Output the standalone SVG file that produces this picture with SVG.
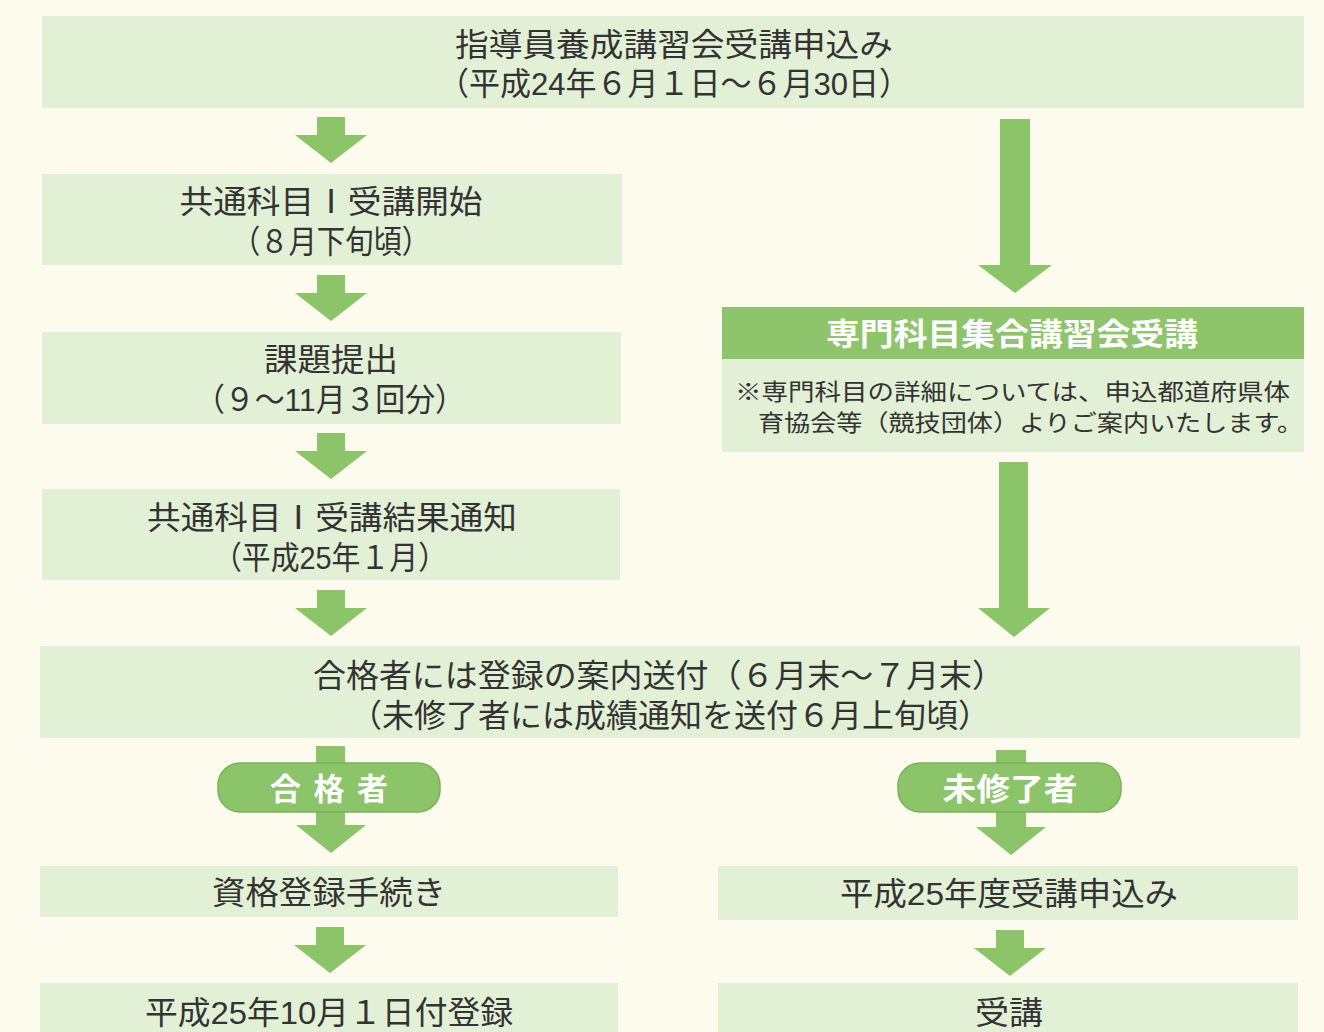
<svg xmlns="http://www.w3.org/2000/svg" width="1324" height="1032" viewBox="0 0 1324 1032">
<style>
.box{fill:#e2f0d6}
.hdr{fill:#8ec46c}
.arr{fill:#8cc46a}
.pill{fill:#8cc46a;stroke:#79b257;stroke-width:1.5}
.t{font-family:"Liberation Sans","Noto Sans CJK JP","Noto Sans CJK SC",sans-serif;font-size:32px;fill:#333;text-anchor:middle}
.n{font-family:"Liberation Sans","Noto Sans CJK JP","Noto Sans CJK SC",sans-serif;font-size:23px;fill:#333}
.w{font-family:"Liberation Sans","Noto Sans CJK JP","Noto Sans CJK SC",sans-serif;font-size:31px;fill:#fff;font-weight:bold;text-anchor:middle}
</style>
<rect width="1324" height="1032" fill="#fdfbee"/>
<g id="connectors">
<polygon class="arr" points="317,117 345,117 345,135 367,135 331,163 295,135 317,135"/>
<polygon class="arr" points="317,275 345,275 345,293 367,293 331,321 295,293 317,293"/>
<polygon class="arr" points="317,433 345,433 345,451 367,451 331,479 295,451 317,451"/>
<polygon class="arr" points="317,590 345,590 345,608 367,608 331,636 295,608 317,608"/>
<polygon class="arr" points="1000,119 1030,119 1030,265 1052,265 1015,293 978,265 1000,265"/>
<polygon class="arr" points="999,462 1028,462 1028,608 1050,608 1014,637 978,608 999,608"/>
<polygon class="arr" points="316,746 345,746 345,825 366,825 331,853 296,825 316,825"/>
<polygon class="arr" points="996,750 1026,750 1026,827 1046,827 1011,855 976,827 996,827"/>
<polygon class="arr" points="316,927 344,927 344,945 366,945 330,973 294,945 316,945"/>
<polygon class="arr" points="996,930 1024,930 1024,948 1046,948 1010,976 974,948 996,948"/>
</g>
<g id="n1"><rect class="box" x="42" y="16" width="1262" height="92"/>
<text class="t" x="674" y="56" textLength="438" lengthAdjust="spacingAndGlyphs">指導員養成講習会受講申込み</text>
<text class="t" x="674" y="95" textLength="472" lengthAdjust="spacingAndGlyphs">（平成24年６月１日～６月30日）</text></g>
<g id="n2"><rect class="box" x="42" y="174" width="580" height="91"/>
<text class="t" x="331" y="213" textLength="303" lengthAdjust="spacingAndGlyphs">共通科目Ⅰ受講開始</text>
<text class="t" x="331" y="253" textLength="198" lengthAdjust="spacingAndGlyphs">（８月下旬頃）</text></g>
<g id="n3"><rect class="box" x="42" y="332" width="579" height="92"/>
<text class="t" x="331" y="371" textLength="134" lengthAdjust="spacingAndGlyphs">課題提出</text>
<text class="t" x="330" y="411" textLength="270" lengthAdjust="spacingAndGlyphs">（９～11月３回分）</text></g>
<g id="n4"><rect class="box" x="42" y="489" width="578" height="91"/>
<text class="t" x="332" y="529" textLength="370" lengthAdjust="spacingAndGlyphs">共通科目Ⅰ受講結果通知</text>
<text class="t" x="330" y="569" textLength="234" lengthAdjust="spacingAndGlyphs">（平成25年１月）</text></g>
<g id="n5"><rect class="box" x="40" y="646" width="1260" height="92"/>
<text class="t" x="659" y="687" textLength="692" lengthAdjust="spacingAndGlyphs">合格者には登録の案内送付（６月末～７月末）</text>
<text class="t" x="670" y="727" textLength="640" lengthAdjust="spacingAndGlyphs">（未修了者には成績通知を送付６月上旬頃）</text></g>
<g id="n6"><rect class="hdr" x="722" y="307" width="582" height="52"/>
<rect class="box" x="722" y="359" width="582" height="93"/>
<text class="w" x="1012" y="345" textLength="372" lengthAdjust="spacingAndGlyphs">専門科目集合講習会受講</text>
<text class="n" x="735" y="400" textLength="555" lengthAdjust="spacingAndGlyphs">※専門科目の詳細については、申込都道府県体</text>
<text class="n" x="758" y="431" textLength="545" lengthAdjust="spacingAndGlyphs">育協会等（競技団体）よりご案内いたします。</text></g>
<g id="p1"><rect class="pill" x="218" y="763" width="222" height="49" rx="22"/>
<text class="w" x="329" y="800" textLength="118" lengthAdjust="spacing">合格者</text></g>
<g id="p2"><rect class="pill" x="898" y="763" width="223" height="49" rx="22"/>
<text class="w" x="1010" y="800" textLength="135" lengthAdjust="spacingAndGlyphs">未修了者</text></g>
<g id="n7"><rect class="box" x="40" y="866" width="578" height="51"/>
<text class="t" x="329" y="904" textLength="234" lengthAdjust="spacingAndGlyphs">資格登録手続き</text></g>
<g id="n8"><rect class="box" x="718" y="866" width="580" height="54"/>
<text class="t" x="1009" y="905" textLength="338" lengthAdjust="spacingAndGlyphs">平成25年度受講申込み</text></g>
<g id="n9"><rect class="box" x="40" y="983" width="578" height="60"/>
<text class="t" x="329" y="1024" textLength="368" lengthAdjust="spacingAndGlyphs">平成25年10月１日付登録</text></g>
<g id="n10"><rect class="box" x="718" y="983" width="580" height="60"/>
<text class="t" x="1009" y="1024" textLength="68" lengthAdjust="spacingAndGlyphs">受講</text></g>
</svg>
